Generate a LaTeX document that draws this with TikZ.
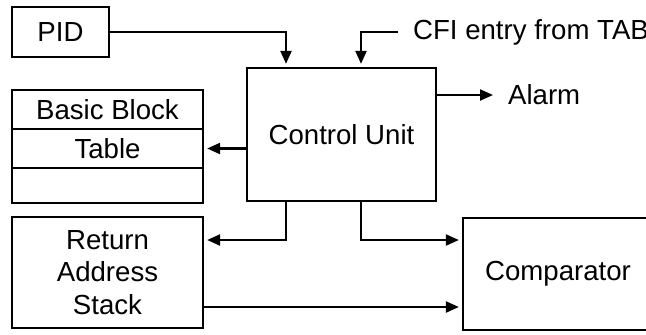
\documentclass[tikz,border=0pt]{standalone}
\usepackage{fontspec}
\setmainfont{Liberation Sans}
\usetikzlibrary{positioning,arrows.meta}

\begin{document}
\begin{tikzpicture}[x=0.5pt,y=-0.5pt,line width=1.15pt,
  every node/.style={font=\fontsize{13.8}{16.3}\selectfont, inner sep=0pt},
  blk/.style n args={2}{draw, minimum width=#1, minimum height=#2},
  arr/.style={-{Triangle[length=6.5pt,width=5.5pt]}, shorten >=1.5pt}]
  \useasboundingbox (0,0) rectangle (646,334);
  \node[blk={48.5pt}{25pt}] (pid) at (60.5,32) {PID};
  \foreach \i/\y/\h/\lab in {1/109.5/19.5/Basic Block, 2/148.5/19.5/Table, 3/185.5/17.5/{}}{
    \node[blk={95.5pt}{\h pt}] (bbt\i) at (107.5,\y) {\lab};
  }
  \node[blk={94.5pt}{66.5pt}] (cu) at (341.5,134.5) {Control Unit};
  \node[blk={95.5pt}{55.5pt}, align=center] (ras) at (107.5,272.5) {Return\\Address\\Stack};
  \node[blk={95pt}{56pt}] (cmp) at (558,274) {Comparator};
  \node[anchor=west, inner xsep=7pt] (cfi) at (398,32) {CFI entry from TAB};
  \node[anchor=west, inner xsep=5.5pt] (alarm) at (496,95) {Alarm};

  \draw[arr] (pid.east) -| ([xshift=-27.75pt]cu.north);
  \draw[arr] (cfi.west) -| ([xshift=9.75pt]cu.north);
  \draw[arr] (cu.east |- alarm.west) -- (alarm.west);
  \draw[arr] (cu.west |- bbt2.east) -- (bbt2.east);
  \draw[arr] ([xshift=-27.75pt]cu.south) |- ([yshift=16.25pt]ras.east);
  \draw[arr] ([xshift=9.75pt]cu.south) |- ([yshift=17pt]cmp.west);
  \draw[arr] ([yshift=-17.25pt]ras.east) -- ([yshift=-17.25pt]ras.east -| cmp.west);
\end{tikzpicture}
\end{document}
